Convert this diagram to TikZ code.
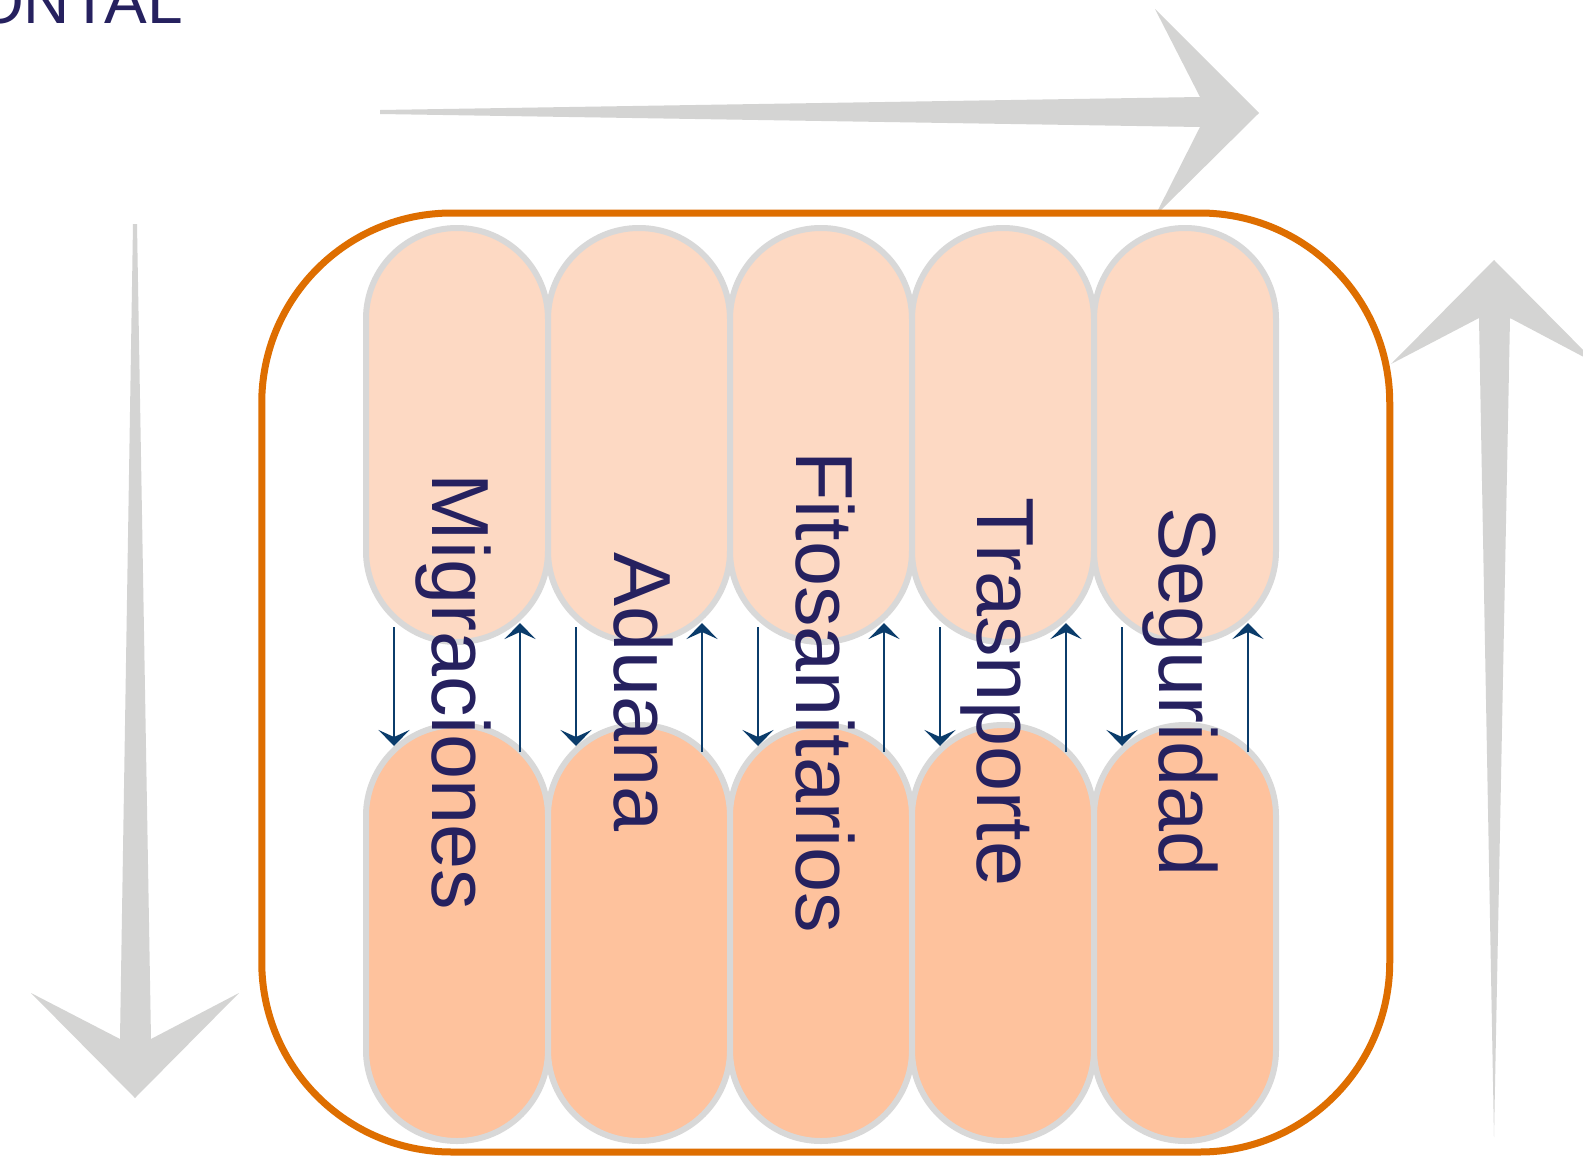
\documentclass[tikz,border=0pt]{standalone}
\usepackage{fontspec}
\setmainfont{Liberation Sans}
\usetikzlibrary{arrows.meta,calc}
\definecolor{navy}{HTML}{26215F}
\definecolor{frameorange}{HTML}{DE6E00}
\definecolor{biggray}{HTML}{D4D4D3}
\definecolor{topfill}{HTML}{FDD9C3}
\definecolor{botfill}{HTML}{FEC29D}
\definecolor{pillborder}{HTML}{D8D8D8}
\definecolor{arrowblue}{HTML}{0B3C6B}
\tikzset{
  bigarrow/.style={fill=biggray},
  framebox/.style={draw=frameorange, line width=7pt, rounded corners=190pt,
    minimum width=1128pt, minimum height=939pt, inner sep=0pt},
  pill/.style={draw=pillborder, line width=6pt, rounded corners=90.9pt,
    minimum width=182pt, inner sep=0pt},
  toppill/.style={pill, fill=topfill, minimum height=414pt},
  botpill/.style={pill, fill=botfill, minimum height=416pt},
  lbl/.style={rotate=-90, anchor=base, inner sep=0pt, text=navy,
    font=\fontsize{81}{97}\selectfont},
  smallarrow/.style={draw=arrowblue, line width=2.4pt,
    -{Stealth[length=16pt,width=31pt,inset=7pt]}},
}
\begin{document}
\begin{tikzpicture}[x=1pt,y=-1pt]
\useasboundingbox (0,0) rectangle (1583,1157);
\clip (0,0) rectangle (1583,1157);
\fill[white] (0,0) rectangle (1583,1157);
% partial title
\node[anchor=base east, inner sep=0pt, text=navy, font=\fontsize{64}{76}\selectfont] (title) at (183,23) {ONTAL};
% big gray arrows
\fill[bigarrow] (380,110) -- (1200,97) -- (1155,9) -- (1259,113) -- (1155,216) -- (1200,127) -- (380,114) -- cycle;
\fill[bigarrow] (133,224) -- (137,224) -- (151,1039) -- (239,993) -- (135,1098) -- (31,993) -- (120,1039) -- cycle;
\fill[bigarrow] (1494,1137) -- (1479,318) -- (1391,364) -- (1494,260) -- (1597,364) -- (1510,318) -- cycle;
% frame
\node[framebox] (box) at (825.75,682.5) {};
% pills
\foreach \i/\x in {1/457,2/639,3/821,4/1003,5/1185}{
  \node[toppill] (t\i) at (\x,435) {};
}
\foreach \i/\x in {1/457,2/639,3/821,4/1003,5/1185}{
  \node[botpill] (b\i) at (\x,933) {};
}
% small arrows
\foreach \i in {1,...,5}{
  \draw[smallarrow] ($(t\i.south)+(-63,-18)$) -- ($(b\i.north)+(-63,24)$);
  \draw[smallarrow] ($(b\i.north)+(63,30)$) -- ($(t\i.south)+(63,-22)$);
}
% labels
\node[lbl] (l1) at (432,692) {Migraciones};
\node[lbl] (l2) at (614,692) {Aduana};
\node[lbl] (l3) at (796,692) {Fitosanitarios};
\node[lbl] (l4) at (977,692) {Trasnporte};
\node[lbl] (l5) at (1159,692) {Seguridad};
\end{tikzpicture}
\end{document}
